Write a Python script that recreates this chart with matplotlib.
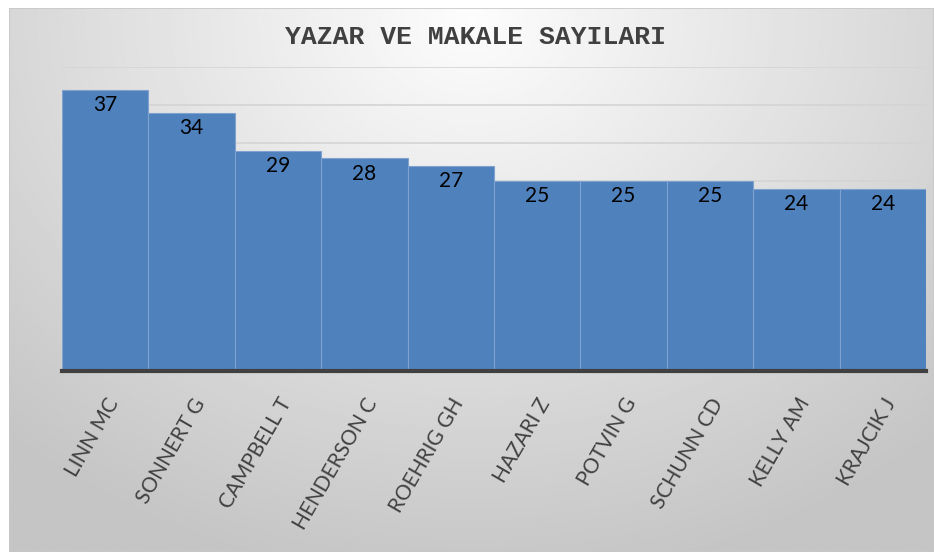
import numpy as np
import matplotlib
matplotlib.use("Agg")
import matplotlib.pyplot as plt
from matplotlib.patches import Rectangle

# data
authors = ["LINN MC", "SONNERT G", "CAMPBELL T", "HENDERSON C", "ROEHRIG GH",
           "HAZARI Z", "POTVIN G", "SCHUNN CD", "KELLY AM", "KRAJCIK J"]
counts = [37, 34, 29, 28, 27, 25, 25, 25, 24, 24]

W, H = 934, 552
fig = plt.figure(figsize=(W / 100, H / 100), dpi=100)
fig.patch.set_facecolor("white")

# radial gradient background (lighter near top centre)
bg = fig.add_axes([9 / W, 0, 1 - 9 / W, (H - 8) / H])
yy, xx = np.mgrid[0:1:300j, 0:1:500j]
d = np.sqrt(((xx - 0.5) / 0.75) ** 2 + ((yy - 0.02) / 1.05) ** 2)
shade = np.clip(0.99 - 0.22 * d, 0.77, 0.99)
bg.imshow(shade, cmap="gray", vmin=0, vmax=1, aspect="auto",
          extent=[0, 1, 1, 0], interpolation="bilinear")
bg.add_patch(Rectangle((0, 0), 1, 1, transform=bg.transAxes, fill=False,
                       edgecolor="#c8c8c8", linewidth=1.2))
bg.set_axis_off()

ax = fig.add_axes([62 / W, 181 / H, (926 - 62) / W, (371 - 67) / H])
ax.patch.set_alpha(0)
x = np.arange(len(authors))
bars = ax.bar(x, counts, width=1.0, color="#4f81bd", edgecolor="#7fa2cf",
              linewidth=0.8, zorder=3)
ax.set_xlim(-0.5, len(authors) - 0.5)
ax.set_ylim(0, 40)
ax.set_yticks(np.arange(0, 41, 5))
ax.yaxis.grid(True, color="#d4d4d4", linewidth=1.2, zorder=0)
ax.tick_params(axis="y", left=False, labelleft=False)
for s in ["top", "right", "left"]:
    ax.spines[s].set_visible(False)
ax.spines["bottom"].set_color("#404040")
ax.spines["bottom"].set_linewidth(3)
ax.spines["bottom"].set_zorder(4)

ax.set_xticks(x)
ax.set_xticklabels(authors, rotation=60, ha="right", rotation_mode="anchor",
                   fontsize=15, color="#404040", family="Lato")
ax.tick_params(axis="x", length=0, pad=17)

for b, v in zip(bars, counts):
    ax.text(b.get_x() + b.get_width() / 2, v - 0.7, str(v), ha="center",
            va="top", fontsize=15, color="black", family="Lato", zorder=5)

fig.text(476 / W, 1 - 37 / H, "YAZAR VE MAKALE SAYILARI", ha="center",
         va="center", fontsize=19, fontweight="bold", color="#404040",
         family="Liberation Mono")

fig.savefig("out.png", dpi=100)
